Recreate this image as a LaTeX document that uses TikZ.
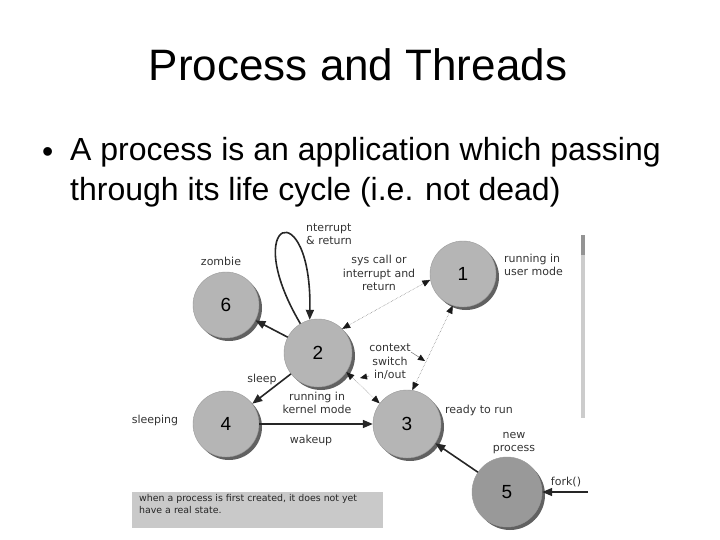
\documentclass[tikz,border=0pt]{standalone}
\usepackage{fontspec}
\setmainfont{Liberation Sans}
\newfontfamily\lblfont{DejaVu Sans}
\usetikzlibrary{arrows.meta,shadows}
\begin{document}
\begin{tikzpicture}[x=1pt,y=-1pt,
  state/.style={circle, draw=black!40, line width=0.4pt, fill=black!29,
    minimum size=66pt, inner sep=0pt, font=\fontsize{19}{19}\selectfont,
    drop shadow={shadow xshift=3pt, shadow yshift=-3pt, opacity=1, fill=black!62}},
  lbl/.style={font=\lblfont\fontsize{11}{13.5}\selectfont, text=black!80, inner sep=0pt, align=center},
  strong/.style={line width=1.6pt, draw=black!85, -{Triangle[length=10pt,width=8pt]}},
  weak/.style={line width=0.5pt, draw=black!55, densely dotted,
    {Triangle[length=8pt,width=6.5pt,color=black!90]}-{Triangle[length=8pt,width=6.5pt,color=black!90]}},
  leader/.style={line width=0.5pt, draw=black!55, -{Triangle[length=7pt,width=6pt,color=black!90]}},
  notebox/.style={fill=black!21, minimum width=251pt, minimum height=36pt, inner sep=0pt}
]
\useasboundingbox (0,0) rectangle (720,540);

% title and bullets
\node[anchor=base, font=\fontsize{44}{44}\selectfont, inner sep=0pt] (title) at (358,81) {Process and Threads};
\node[anchor=base west, font=\fontsize{32}{32}\selectfont, inner sep=0pt] (bul) at (42,163) {•};
\node[anchor=base west, font=\fontsize{32}{32}\selectfont, inner sep=0pt] (b1) at (70,161) {A process is an application which passing};
\node[anchor=base west, font=\fontsize{32}{32}\selectfont, inner sep=0pt] (b2) at (70,201) {through its life cycle (i.e. not dead)};

% scroll bar
\fill[black!20] (581,235) rectangle (585,418);
\fill[black!42] (581,235) rectangle (585,255);

% note box
\node[notebox, anchor=north west] (note) at (132,492) {};
\node[font=\lblfont\fontsize{9.4}{12}\selectfont, text=black!85, align=left, anchor=north west, inner sep=0pt] (notetext) at (139,494) {when a process is first created, it does not yet\\have a real state.};

% states
\node[state] (n1) at (463,274) {1};
\node[state] (n6) at (226,305) {6};
\node[state, minimum size=68pt] (n2) at (318,353) {2};
\node[state] (n4) at (226,424) {4};
\node[state, minimum size=68pt] (n3) at (407,424) {3};
\node[state, minimum size=70pt, fill=black!40] (n5) at (507,492) {5};

% connectors
\draw[strong] (n2) -- (n6);
\draw[strong] (n2.121) .. controls (238,218) and (312,192) .. (n2.104);
\draw[weak] (n2.45) -- (n1.190);
\draw[weak] (n3.81) -- (n1.252);
\draw[weak] (n2.326) -- (n3.143);
\draw[strong] (n2) -- (n4);
\draw[strong] (n4) -- (n3);
\draw[strong] (n5) -- (n3);
\coordinate (fk) at (588,492);
\draw[strong] (fk) -- (n5);

% labels
\node[lbl, align=left, anchor=west] (lint) at (306,234) {nterrupt\\\& return};
\node[lbl] (lzom) at (221,261) {zombie};
\node[lbl] (lsys) at (379,273) {sys call or\\interrupt and\\return};
\node[lbl, align=left, anchor=west] (lusr) at (504,265) {running in\\user mode};
\node[lbl] (lctx) at (390,362) {context\\switch\\in/out};
\node[lbl] (lslp) at (262,379) {sleep};
\node[lbl] (lker) at (317,403) {running in\\kernel mode};
\node[lbl] (lsleeping) at (155,420) {sleeping};
\node[lbl] (lwak) at (311,440) {wakeup};
\node[lbl] (lrdy) at (479,410) {ready to run};
\node[lbl] (lnew) at (514,443) {new\\process};
\node[lbl] (lfork) at (566,482) {fork()};

% leaders from the context-switch label
\coordinate (ctxa) at (411,352);
\coordinate (ctxb) at (425,361);
\draw[leader] (ctxa) -- (ctxb);
\coordinate (ioa) at (369,376);
\coordinate (iob) at (360,378);
\draw[leader] (ioa) -- (iob);
\end{tikzpicture}
\end{document}
